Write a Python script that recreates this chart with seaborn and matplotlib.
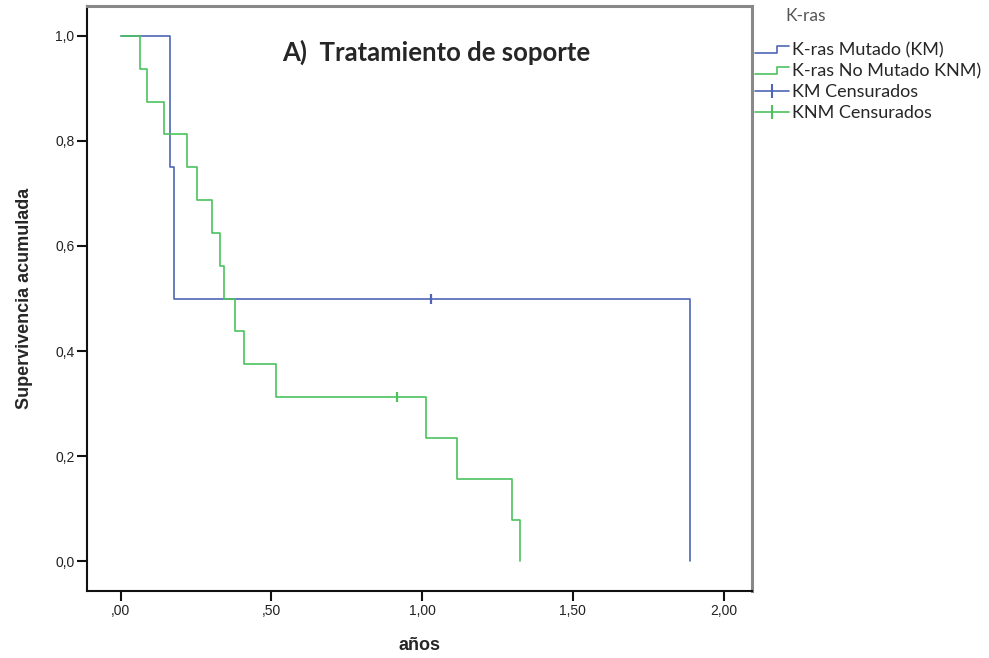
import pandas as pd
import seaborn as sns
import matplotlib.pyplot as plt
from matplotlib.lines import Line2D
from matplotlib.legend_handler import HandlerBase

# Kaplan-Meier steps (years, cumulative survival)
km_time = [0.0, 0.163, 0.179, 1.888]
km_surv = [1.0, 0.75, 0.5, 0.0]
knm_time = [0.0, 0.063, 0.088, 0.144, 0.221, 0.255, 0.305, 0.331, 0.343,
            0.379, 0.409, 0.517, 1.014, 1.115, 1.298, 1.325]
knm_surv = [1.0, 0.9375, 0.875, 0.8125, 0.75, 0.6875, 0.625, 0.5625, 0.5,
            0.4375, 0.375, 0.3125, 0.2344, 0.1563, 0.0781, 0.0]
km_cens_time = [1.03]
km_cens_surv = [0.5]
knm_cens_time = [0.916]
knm_cens_surv = [0.3125]

x_ticks = [0.0, 0.5, 1.0, 1.5, 2.0]
x_labels = [",00", ",50", "1,00", "1,50", "2,00"]
y_ticks = [0.0, 0.2, 0.4, 0.6, 0.8, 1.0]
y_labels = ["0,0", "0,2", "0,4", "0,6", "0,8", "1,0"]

blue = "#4f66b5"
green = "#4cc25f"

sns.set_style("white")
plt.rcParams['font.family'] = ['Liberation Sans', 'DejaVu Sans']

fig = plt.figure(figsize=(9.89, 6.58), dpi=100)
ax = fig.add_axes([0.088, 0.1018, 0.672, 0.8891])

km = pd.DataFrame({"t": km_time, "s": km_surv})
knm = pd.DataFrame({"t": knm_time, "s": knm_surv})

sns.lineplot(data=km, x="t", y="s", drawstyle="steps-post", color=blue,
             lw=1.2, estimator=None, ax=ax)
sns.lineplot(data=knm, x="t", y="s", drawstyle="steps-post", color=green,
             lw=1.2, estimator=None, ax=ax)
sns.scatterplot(x=km_cens_time, y=km_cens_surv, marker="|", s=55,
                color=blue, linewidth=1.6, ax=ax)
sns.scatterplot(x=knm_cens_time, y=knm_cens_surv, marker="|", s=55,
                color=green, linewidth=1.6, ax=ax)

ax.set_xlim(-0.111, 2.093)
ax.set_ylim(-0.057, 1.057)
ax.set_xticks(x_ticks)
ax.set_xticklabels(x_labels)
ax.set_yticks(y_ticks)
ax.set_yticklabels(y_labels)
ax.tick_params(axis="both", bottom=True, left=True, direction="out",
               length=7, width=1.5, color="#111111", labelsize=10,
               labelcolor="#222222", pad=2)

for side in ["left", "bottom"]:
    ax.spines[side].set_color("#111111")
    ax.spines[side].set_linewidth(1.5)
for side in ["top", "right"]:
    ax.spines[side].set_color("#888888")
    ax.spines[side].set_linewidth(2.2)

ax.set_xlabel("años", fontsize=13, fontweight="bold", labelpad=14)
ax.set_ylabel("Supervivencia acumulada", fontsize=13, fontweight="bold",
              labelpad=16)

ax.text(0.526, 0.92, "A)  Tratamiento de soporte", transform=ax.transAxes,
        ha="center", va="center", fontsize=18.5, fontweight="bold",
        family=["Lato", "DejaVu Sans"])


class StepHandler(HandlerBase):
    def create_artists(self, legend, orig, xd, yd, w, h, fontsize, trans):
        x0 = -xd
        yl = -yd + h * 0.2
        yh = -yd + h * 0.75
        xm = x0 + w * 0.65
        ln = Line2D([x0, xm, xm, x0 + w], [yl, yl, yh, yh],
                    color=orig.get_color(), lw=1.2, transform=trans)
        return [ln]


fig.text(785 / 989, 1 - 16 / 658, "K-ras", ha="left", va="center",
         fontsize=12.5, color="#555555", family=["Lato", "DejaVu Sans"])

h1 = Line2D([], [], color=blue, lw=1.2)
h2 = Line2D([], [], color=green, lw=1.2)
h3 = Line2D([], [], color=blue, lw=1.2, marker="|", markersize=10, mew=1.5)
h4 = Line2D([], [], color=green, lw=1.2, marker="|", markersize=10, mew=1.5)
leg = fig.legend([h1, h2, h3, h4],
                 ["K-ras Mutado (KM)", "K-ras No Mutado KNM)",
                  "KM Censurados", "KNM Censurados"],
                 loc="upper left", bbox_to_anchor=(755 / 989, 1 - 42 / 658),
                 frameon=False,
                 handler_map={h1: StepHandler(), h2: StepHandler()},
                 numpoints=1, handlelength=1.9, handletextpad=0.15,
                 labelspacing=0.27, borderaxespad=0, borderpad=0,
                 prop={"family": ["Lato", "DejaVu Sans"], "size": 13})

fig.savefig("out.png", dpi=100)
